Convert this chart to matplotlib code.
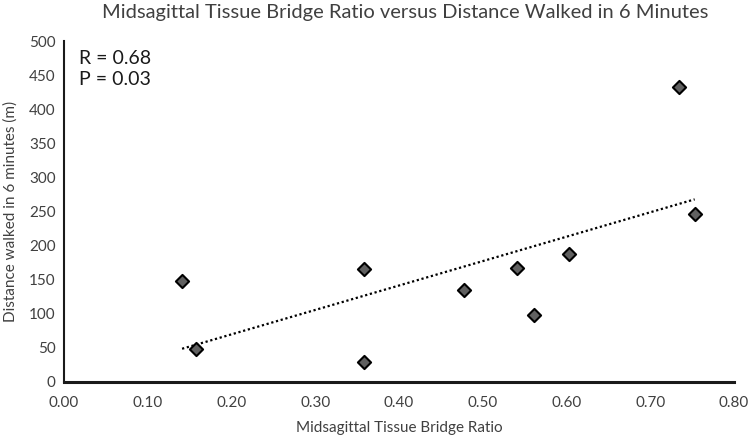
import numpy as np
import matplotlib
matplotlib.use("Agg")
import matplotlib.pyplot as plt

plt.rcParams['font.family'] = ['Lato', 'DejaVu Sans']

# data
ratio = [0.141, 0.158, 0.358, 0.358, 0.478, 0.541, 0.561, 0.603, 0.734, 0.753]
distance = [148, 49, 166, 30, 135, 167, 98, 188, 433, 246]
x_ticks = [0.0, 0.1, 0.2, 0.3, 0.4, 0.5, 0.6, 0.7, 0.8]
y_ticks = [0, 50, 100, 150, 200, 250, 300, 350, 400, 450, 500]

fig = plt.figure(figsize=(7.5, 4.37), dpi=100)
ax = fig.add_axes([0.0853, 0.1259, 0.8934, 0.7801])

# linear trendline
slope, intercept = np.polyfit(ratio, distance, 1)
xl = np.array([min(ratio), max(ratio)])
ax.plot(xl, slope * xl + intercept, color='black', linestyle=(0, (1, 1.2)),
        linewidth=1.6, zorder=2)

ax.scatter(ratio, distance, marker='D', s=45, facecolor='#606060',
           edgecolor='black', linewidth=1.5, zorder=3)

ax.set_xlim(0, 0.8)
ax.set_ylim(0, 500)
ax.set_xticks(x_ticks)
ax.set_xticklabels([f"{t:.2f}" for t in x_ticks])
ax.set_yticks(y_ticks)
ax.tick_params(length=0, labelsize=11, colors='#404040')
ax.tick_params(axis='y', pad=6)
ax.tick_params(axis='x', pad=10)

for s in ['top', 'right']:
    ax.spines[s].set_visible(False)
ax.spines['bottom'].set_linewidth(2.2)
ax.spines['left'].set_linewidth(1.5)
ax.spines['bottom'].set_color('#1a1a1a')
ax.spines['left'].set_color('#1a1a1a')

ax.set_xlabel('Midsagittal Tissue Bridge Ratio', fontsize=11, color='#404040',
              labelpad=8)
ax.set_ylabel('Distance walked in 6 minutes (m)', fontsize=11, color='#404040',
              labelpad=8)
fig.text(0.54, 0.972, 'Midsagittal Tissue Bridge Ratio versus Distance Walked in 6 Minutes',
         ha='center', va='center', fontsize=14.5, color='#404040')

ax.text(0.022, 0.975, 'R = 0.68\nP = 0.03', transform=ax.transAxes,
        ha='left', va='top', fontsize=14, color='#1a1a1a', linespacing=1.3)

fig.savefig('out.png', dpi=100)
